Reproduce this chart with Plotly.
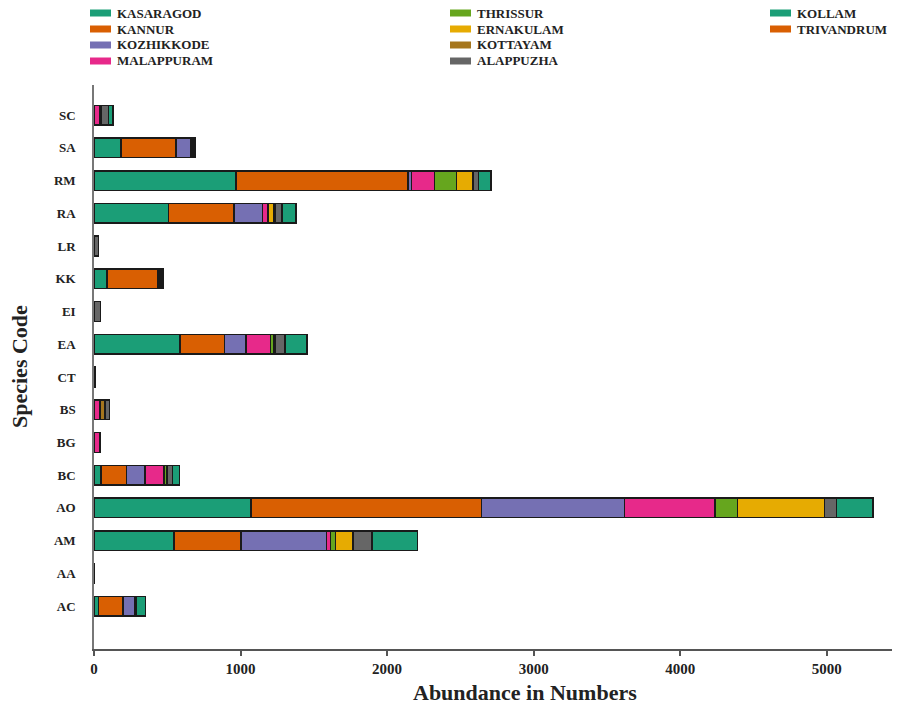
import plotly.graph_objects as go

species = ["AC", "AA", "AM", "AO", "BC", "BG", "BS", "CT", "EA", "EI", "KK", "LR", "RA", "RM", "SA", "SC"]

districts = ["KASARAGOD", "KANNUR", "KOZHIKKODE", "MALAPPURAM", "THRISSUR",
             "ERNAKULAM", "KOTTAYAM", "ALAPPUZHA", "KOLLAM", "TRIVANDRUM"]

#                AC   AA   AM    AO    BC   BG  BS  CT  EA   EI  KK   LR  RA   RM    SA   SC
kasaragod  = [30,  0,  545, 1072, 48,  0,  0,  0,  587, 0,  87,  0,  508, 968,  184, 0]
kannur     = [167, 0,  458, 1571, 173, 0,  0,  0,  303, 0,  348, 0,  447, 1175, 374, 0]
kozhikkode = [80,  0,  583, 977,  128, 0,  0,  0,  146, 0,  0,   0,  195, 22,   100, 0]
malappuram = [0,   0,  27,  617,  128, 40, 40, 0,  168, 0,  8,   0,  37,  159,  12,  40]
thrissur   = [10,  0,  36,  155,  20,  0,  0,  0,  20,  0,  8,   0,  0,   148,  0,   0]
ernakulam  = [0,   0,  116, 594,  0,   0,  0,  0,  0,   0,  8,   0,  41,  114,  0,   0]
kottayam   = [0,   0,  5,   0,    0,   0,  35, 0,  10,  0,  8,   0,  10,  0,    12,  10]
alappuzha  = [0,   5,  127, 80,   39,  0,  32, 8,  70,  45, 8,   30, 45,  38,   12,  50]
kollam     = [66,  0,  311, 250,  48,  0,  0,  0,  148, 0,  0,   0,  96,  85,   0,   30]
trivandrum = [0,   0,  0,   0,    0,   0,  0,  0,  0,   0,  0,   0,  0,   0,    0,   0]

values = [kasaragod, kannur, kozhikkode, malappuram, thrissur,
          ernakulam, kottayam, alappuzha, kollam, trivandrum]

colors = ["#1b9e77", "#d95f02", "#7570b3", "#e7298a", "#66a61e",
          "#e6ab02", "#a6761d", "#666666", "#1b9e77", "#d95f02"]

xtick_vals = [0, 1000, 2000, 3000, 4000, 5000]

FONT = "Liberation Serif"
OFF = 8  # page body margin
W, H = 900 - OFF, 708 - OFF
# plot area in screen pixels: x 94..900, y 85..649
ML, MT = 94 - OFF, 85 - OFF
MR, MB = 0, 708 - 649
PW, PH = W - ML - MR, H - MT - MB


def px_x(sx):
    return (sx - OFF - ML) / PW


def px_y(sy):
    return (H - MB - (sy - OFF)) / PH


fig = go.Figure()
for name, vals, col in zip(districts, values, colors):
    fig.add_trace(go.Bar(
        y=species, x=vals, name=name, orientation="h",
        marker=dict(color=col, line=dict(color="#1a1a1a", width=1.5)),
        showlegend=False,
    ))

# custom legend: 3 columns, column-major, 4 rows max
col_sym_x = [90, 450, 770]
row_y = [13, 29, 45, 61]
shapes = []
annotations = []
for i, (name, col) in enumerate(zip(districts, colors)):
    c, r = divmod(i, 4)
    sx, cy = col_sym_x[c], row_y[r]
    shapes.append(dict(
        type="rect", xref="paper", yref="paper",
        x0=px_x(sx), x1=px_x(sx + 21), y0=px_y(cy + 3.5), y1=px_y(cy - 3.5),
        fillcolor=col, line=dict(width=0), layer="above",
    ))
    annotations.append(dict(
        text=name, xref="paper", yref="paper",
        x=px_x(sx + 25), y=px_y(cy), xanchor="left", yanchor="middle",
        showarrow=False,
        font=dict(family=FONT, size=13, color="#222222", weight="bold"),
    ))

annotations.append(dict(
    text="Abundance in Numbers", xref="paper", yref="paper",
    x=px_x(525), y=px_y(692), xanchor="center", yanchor="middle",
    showarrow=False,
    font=dict(family=FONT, size=22, color="#222222", weight="bold"),
))
annotations.append(dict(
    text="Species Code", xref="paper", yref="paper",
    x=px_x(19), y=px_y(367), xanchor="center", yanchor="middle",
    textangle=-90, showarrow=False,
    font=dict(family=FONT, size=22, color="#222222", weight="bold"),
))

fig.update_layout(
    width=W, height=H,
    margin=dict(l=ML, r=MR, t=MT, b=MB, autoexpand=False),
    paper_bgcolor="white", plot_bgcolor="white",
    barmode="stack", bargap=0.4, showlegend=False,
    font=dict(family=FONT, color="#222222"),
    xaxis=dict(
        range=[0, 5500], tickvals=xtick_vals, ticktext=[str(v) for v in xtick_vals],
        showgrid=False, zeroline=False, automargin=False,
        showline=True, linecolor="#555555", linewidth=2,
        ticks="outside", ticklen=5, tickcolor="#555555", tickwidth=1.5,
        tickfont=dict(family=FONT, size=15, color="#222222", weight="bold"),
    ),
    yaxis=dict(
        categoryorder="array", categoryarray=species,
        range=[-1.31, 15.92], automargin=False,
        showgrid=False, zeroline=False,
        showline=True, linecolor="#777777", linewidth=1.5,
        ticks="", ticklabelstandoff=14,
        tickfont=dict(family=FONT, size=13, color="#222222", weight="bold"),
    ),
    shapes=shapes,
    annotations=annotations,
)

fig.write_html("out.html")
